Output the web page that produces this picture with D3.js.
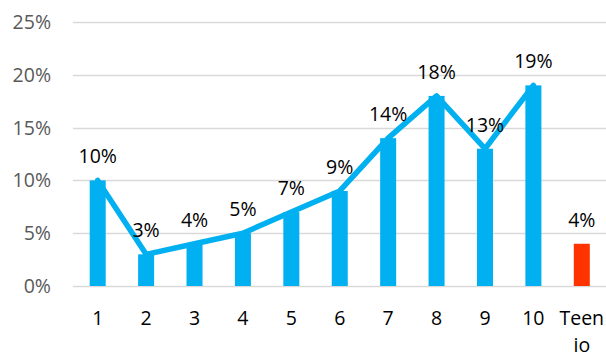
<!DOCTYPE html>
<html><head><meta charset="utf-8">
<script src="https://cdn.jsdelivr.net/npm/d3@7"></script>
<style>body{margin:0;background:#fff}svg{display:block}text{font-family:"Open Sans",sans-serif}</style>
</head><body><svg id="c" width="606" height="355"></svg>
<script>
const categories = ["1","2","3","4","5","6","7","8","9","10","Teen io"];
const values = [10,3,4,5,7,9,14,18,13,19,4];
const lineCategories = ["1","2","3","4","5","6","7","8","9","10"];
const yTicks = [0,5,10,15,20,25];

const svg = d3.select("#c");
const x = d3.scaleBand().domain(categories).range([73.5, 606]).paddingInner(0).paddingOuter(0);
const y = d3.scaleLinear().domain([0,25]).range([286, 22]);
const bw = 16;

svg.append("g").selectAll("line").data(yTicks).join("line")
  .attr("x1",73).attr("x2",606).attr("y1",d=>Math.round(y(d))+0.5).attr("y2",d=>Math.round(y(d))+0.5)
  .attr("stroke","#d9d9d9").attr("stroke-width",1.5);

svg.append("g").selectAll("text").data(yTicks).join("text")
  .attr("x",51).attr("y",d=>y(d)).attr("dy","0.36em").attr("text-anchor","end")
  .attr("fill","#595959").attr("font-size",19.5).text(d=>d+"%");

const cx = d => x(d)+x.bandwidth()/2;

svg.append("g").selectAll("rect").data(categories).join("rect")
  .attr("x",(d)=>cx(d)-bw/2).attr("width",bw)
  .attr("y",(d,i)=>y(values[i])).attr("height",(d,i)=>y(0)-y(values[i]))
  .attr("fill",(d,i)=>i===categories.length-1?"#ff3300":"#00b0f0");

const lineData = lineCategories.map((c)=>({c, v: values[categories.indexOf(c)]}));
svg.append("path").datum(lineData)
  .attr("d", d3.line().x(d=>cx(d.c)).y(d=>y(d.v)))
  .attr("fill","none").attr("stroke","#00b0f0").attr("stroke-width",5.5).attr("stroke-linejoin","round").attr("stroke-linecap","round");

svg.append("g").selectAll("text").data(categories).join("text")
  .attr("x",d=>cx(d)).attr("y",(d,i)=>y(values[i])-24).attr("dy","0.36em").attr("text-anchor","middle")
  .attr("fill","#000").attr("font-size",19.5).text((d,i)=>values[i]+"%");

const xl = svg.append("g").selectAll("text").data(categories).join("text")
  .attr("x",d=>cx(d)).attr("y",318).attr("text-anchor","middle")
  .attr("fill","#000").attr("font-size",19.5);
xl.each(function(d){
  const parts = d.split(" ");
  const t = d3.select(this);
  parts.forEach((p,i)=>t.append("tspan").attr("x",cx(d)).attr("dy", i===0?"0.36em":"1.38em").text(p));
});
</script></body></html>
